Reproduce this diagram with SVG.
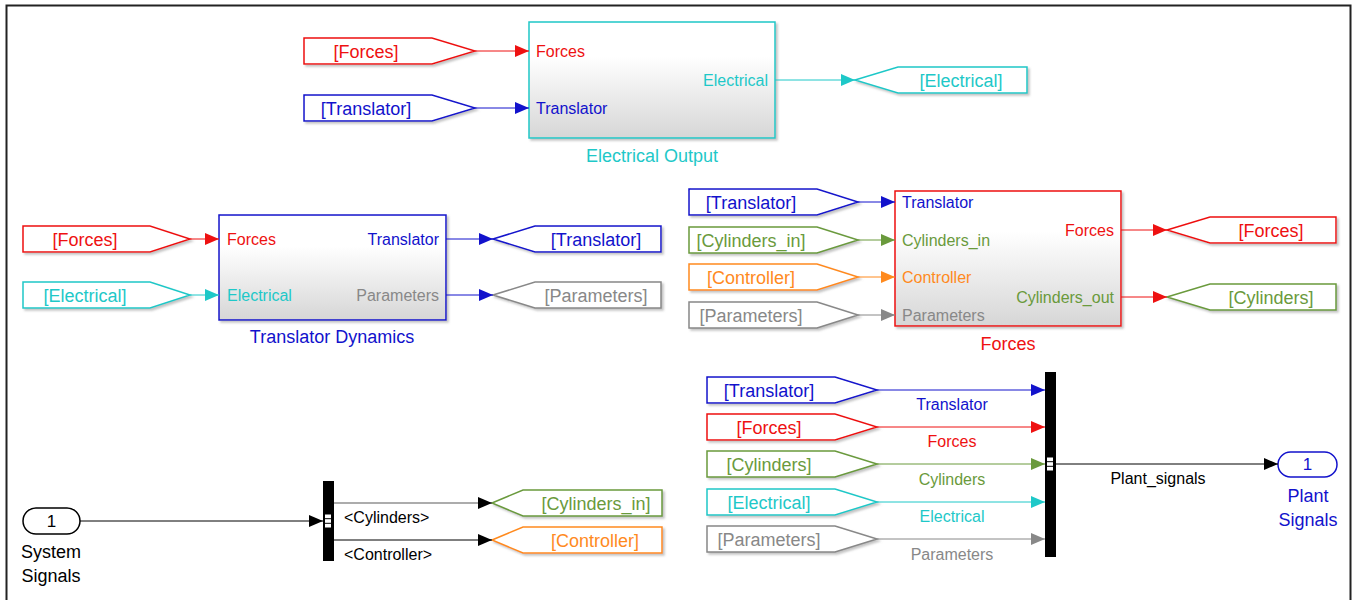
<svg xmlns="http://www.w3.org/2000/svg" width="1352" height="600" viewBox="0 0 1352 600">
  <style>
    text { font-family: "Liberation Sans", Arial, sans-serif; }
    .port { font-size: 16px; }
    .tagt { font-size: 18px; text-anchor: middle; }
    .name { font-size: 18px; text-anchor: middle; }
    .sig  { font-size: 16px; text-anchor: middle; }
    .r { text-anchor: end; }
    .blk { fill: url(#blockFill); stroke-width: 1.5; filter: url(#shadow); }
    .tag { fill: #ffffff; stroke-width: 1.5; filter: url(#shadow); }
    .wire { fill: none; stroke-width: 1; }
    .red { stroke: #ee1111; } .tred { fill: #ee1111; }
    .blue { stroke: #1212cc; } .tblue { fill: #1212cc; }
    .cyan { stroke: #1ec8c8; } .tcyan { fill: #1ec8c8; }
    .green { stroke: #6a9a3c; } .tgreen { fill: #6a9a3c; }
    .orange { stroke: #ff8a1e; } .torange { fill: #ff8a1e; }
    .grey { stroke: #888888; } .tgrey { fill: #888888; }
    .black { stroke: #000000; } .tblack { fill: #000000; }
  </style>
  <defs>
    <linearGradient id="blockFill" x1="0" y1="0" x2="0" y2="1">
      <stop offset="0" stop-color="#ffffff"/>
      <stop offset="0.3" stop-color="#ffffff"/>
      <stop offset="1" stop-color="#d6d6d6"/>
    </linearGradient>
    <filter id="shadow" x="-10%" y="-10%" width="120%" height="130%">
      <feDropShadow dx="2" dy="2" stdDeviation="1" flood-color="#888888" flood-opacity="0.5"/>
    </filter>
    <marker id="aRed" markerUnits="userSpaceOnUse" markerWidth="14" markerHeight="12" refX="14" refY="6" orient="auto"><path d="M0,0 L14,6 L0,12 z" fill="#ee1111"/></marker>
    <marker id="aBlue" markerUnits="userSpaceOnUse" markerWidth="14" markerHeight="12" refX="14" refY="6" orient="auto"><path d="M0,0 L14,6 L0,12 z" fill="#1212cc"/></marker>
    <marker id="aCyan" markerUnits="userSpaceOnUse" markerWidth="14" markerHeight="12" refX="14" refY="6" orient="auto"><path d="M0,0 L14,6 L0,12 z" fill="#1ec8c8"/></marker>
    <marker id="aGreen" markerUnits="userSpaceOnUse" markerWidth="14" markerHeight="12" refX="14" refY="6" orient="auto"><path d="M0,0 L14,6 L0,12 z" fill="#6a9a3c"/></marker>
    <marker id="aOrange" markerUnits="userSpaceOnUse" markerWidth="14" markerHeight="12" refX="14" refY="6" orient="auto"><path d="M0,0 L14,6 L0,12 z" fill="#ff8a1e"/></marker>
    <marker id="aGrey" markerUnits="userSpaceOnUse" markerWidth="14" markerHeight="12" refX="14" refY="6" orient="auto"><path d="M0,0 L14,6 L0,12 z" fill="#888888"/></marker>
    <marker id="aBlack" markerUnits="userSpaceOnUse" markerWidth="14" markerHeight="12" refX="14" refY="6" orient="auto"><path d="M0,0 L14,6 L0,12 z" fill="#000000"/></marker>
  </defs>

  <rect width="1352" height="600" fill="#ffffff"/>
  <!-- canvas frame -->
  <rect x="6.5" y="5.5" width="1344" height="600" fill="none" stroke="#222222" stroke-width="2"/>

  <!-- ===== Electrical Output subsystem ===== -->
  <g id="from-forces-1">
    <polygon class="tag red" points="304,38 432,38 475,51 432,64 304,64"/>
    <text class="tagt tred" x="366" y="57.5">[Forces]</text>
  </g>
  <g id="from-translator-1">
    <polygon class="tag blue" points="304,95 432,95 475,108 432,121 304,121"/>
    <text class="tagt tblue" x="366" y="114.5">[Translator]</text>
  </g>
  <g id="electrical-output">
    <rect class="blk cyan" x="529" y="22" width="246" height="116"/>
    <text class="port tred" x="536" y="57">Forces</text>
    <text class="port tblue" x="536" y="114">Translator</text>
    <text class="port tcyan r" x="768" y="86">Electrical</text>
    <text class="name tcyan" x="652" y="162">Electrical Output</text>
  </g>
  <g id="goto-electrical">
    <polygon class="tag cyan" points="855,80 898,67 1027,67 1027,93 898,93"/>
    <text class="tagt tcyan" x="961" y="86.5">[Electrical]</text>
  </g>

  <!-- ===== Translator Dynamics subsystem ===== -->
  <g id="from-forces-2">
    <polygon class="tag red" points="23,226 150,226 190,239 150,252 23,252"/>
    <text class="tagt tred" x="85" y="245.5">[Forces]</text>
  </g>
  <g id="from-electrical-1">
    <polygon class="tag cyan" points="23,282 150,282 190,295 150,308 23,308"/>
    <text class="tagt tcyan" x="85" y="301.5">[Electrical]</text>
  </g>
  <g id="translator-dynamics">
    <rect class="blk blue" x="219" y="215" width="227" height="105"/>
    <text class="port tred" x="227" y="245">Forces</text>
    <text class="port tcyan" x="227" y="301">Electrical</text>
    <text class="port tblue r" x="439" y="245">Translator</text>
    <text class="port tgrey r" x="439" y="301">Parameters</text>
    <text class="name tblue" x="332" y="343">Translator Dynamics</text>
  </g>
  <g id="goto-translator">
    <polygon class="tag blue" points="493,239 535,226 661,226 661,252 535,252"/>
    <text class="tagt tblue" x="596" y="245.5">[Translator]</text>
  </g>
  <g id="goto-parameters">
    <polygon class="tag grey" points="493,295 535,282 661,282 661,308 535,308"/>
    <text class="tagt tgrey" x="596" y="301.5">[Parameters]</text>
  </g>

  <!-- ===== Forces subsystem ===== -->
  <g id="from-translator-2">
    <polygon class="tag blue" points="689,189 817,189 858,202 817,215 689,215"/>
    <text class="tagt tblue" x="751" y="208.5">[Translator]</text>
  </g>
  <g id="from-cylinders-in">
    <polygon class="tag green" points="689,227 817,227 858,240 817,253 689,253"/>
    <text class="tagt tgreen" x="751" y="246.5">[Cylinders_in]</text>
  </g>
  <g id="from-controller">
    <polygon class="tag orange" points="689,264 817,264 858,277 817,290 689,290"/>
    <text class="tagt torange" x="751" y="283.5">[Controller]</text>
  </g>
  <g id="from-parameters-1">
    <polygon class="tag grey" points="689,302 817,302 858,315 817,328 689,328"/>
    <text class="tagt tgrey" x="751" y="321.5">[Parameters]</text>
  </g>
  <g id="forces">
    <rect class="blk red" x="895" y="191" width="226" height="135"/>
    <text class="port tblue" x="902" y="208">Translator</text>
    <text class="port tgreen" x="902" y="246">Cylinders_in</text>
    <text class="port torange" x="902" y="283">Controller</text>
    <text class="port tgrey" x="902" y="321">Parameters</text>
    <text class="port tred r" x="1114" y="236">Forces</text>
    <text class="port tgreen r" x="1114" y="303">Cylinders_out</text>
    <text class="name tred" x="1008" y="350">Forces</text>
  </g>
  <g id="goto-forces">
    <polygon class="tag red" points="1167,230 1210,217 1336,217 1336,243 1210,243"/>
    <text class="tagt tred" x="1271" y="236.5">[Forces]</text>
  </g>
  <g id="goto-cylinders">
    <polygon class="tag green" points="1167,297 1210,284 1336,284 1336,310 1210,310"/>
    <text class="tagt tgreen" x="1271" y="303.5">[Cylinders]</text>
  </g>

  <!-- ===== System signals bus selector ===== -->
  <g id="system-signals">
    <rect x="23" y="508" width="57" height="26" rx="13" fill="#ffffff" stroke="#000000" stroke-width="1.5"/>
    <text class="sig tblack" x="51.5" y="527" style="font-size:17px">1</text>
    <text class="name tblack" x="51" y="558">System</text>
    <text class="name tblack" x="51" y="582">Signals</text>
  </g>
  <g id="bus-selector">
    <rect x="323" y="481" width="11" height="80" fill="#000000"/>
    <rect x="324.5" y="514" width="7" height="14" fill="#ffffff" stroke="#000000" stroke-width="1"/>
    <line x1="324.5" y1="518.7" x2="331.5" y2="518.7" stroke="#000000" stroke-width="1"/>
    <line x1="324.5" y1="523.3" x2="331.5" y2="523.3" stroke="#000000" stroke-width="1"/>
  </g>
  <g id="goto-cylinders-in">
    <polygon class="tag green" points="492,503 523,490 662,490 662,516 523,516"/>
    <text class="tagt tgreen" x="596" y="509.5">[Cylinders_in]</text>
  </g>
  <g id="goto-controller">
    <polygon class="tag orange" points="492,540 523,527 662,527 662,553 523,553"/>
    <text class="tagt torange" x="595" y="546.5">[Controller]</text>
  </g>

  <!-- ===== Plant signals bus creator ===== -->
  <g id="from-translator-3">
    <polygon class="tag blue" points="707,377 835,377 877,390 835,403 707,403"/>
    <text class="tagt tblue" x="769" y="396.5">[Translator]</text>
  </g>
  <g id="from-forces-3">
    <polygon class="tag red" points="707,414 835,414 877,427 835,440 707,440"/>
    <text class="tagt tred" x="769" y="433.5">[Forces]</text>
  </g>
  <g id="from-cylinders">
    <polygon class="tag green" points="707,451 835,451 877,464 835,477 707,477"/>
    <text class="tagt tgreen" x="769" y="470.5">[Cylinders]</text>
  </g>
  <g id="from-electrical-2">
    <polygon class="tag cyan" points="707,489 835,489 877,502 835,515 707,515"/>
    <text class="tagt tcyan" x="769" y="508.5">[Electrical]</text>
  </g>
  <g id="from-parameters-2">
    <polygon class="tag grey" points="707,526 835,526 877,539 835,552 707,552"/>
    <text class="tagt tgrey" x="769" y="545.5">[Parameters]</text>
  </g>
  <g id="bus-creator">
    <rect x="1045" y="372" width="11" height="185" fill="#000000"/>
    <rect x="1046.5" y="457" width="7" height="14" fill="#ffffff" stroke="#000000" stroke-width="1"/>
    <line x1="1046.5" y1="461.7" x2="1053.5" y2="461.7" stroke="#000000" stroke-width="1"/>
    <line x1="1046.5" y1="466.3" x2="1053.5" y2="466.3" stroke="#000000" stroke-width="1"/>
  </g>
  <g id="plant-signals">
    <rect x="1278" y="452" width="59" height="25" rx="12.5" fill="#ffffff" stroke="#1212cc" stroke-width="1.5"/>
    <text class="sig tblue" x="1307.5" y="470" style="font-size:17px">1</text>
    <text class="name tblue" x="1308" y="502">Plant</text>
    <text class="name tblue" x="1308" y="526">Signals</text>
  </g>

  <!-- ===== signal lines ===== -->
  <g id="connectors">
    <line class="wire red" x1="475" y1="51" x2="529" y2="51" marker-end="url(#aRed)"/>
    <line class="wire blue" x1="475" y1="108" x2="529" y2="108" marker-end="url(#aBlue)"/>
    <line class="wire cyan" x1="775" y1="80" x2="855" y2="80" marker-end="url(#aCyan)"/>

    <line class="wire red" x1="190" y1="239" x2="219" y2="239" marker-end="url(#aRed)"/>
    <line class="wire cyan" x1="190" y1="295" x2="219" y2="295" marker-end="url(#aCyan)"/>
    <line class="wire blue" x1="446" y1="239" x2="493" y2="239" marker-end="url(#aBlue)"/>
    <line class="wire blue" x1="446" y1="295" x2="493" y2="295" marker-end="url(#aBlue)"/>

    <line class="wire blue" x1="858" y1="202" x2="895" y2="202" marker-end="url(#aBlue)"/>
    <line class="wire green" x1="858" y1="240" x2="895" y2="240" marker-end="url(#aGreen)"/>
    <line class="wire orange" x1="858" y1="277" x2="895" y2="277" marker-end="url(#aOrange)"/>
    <line class="wire grey" x1="858" y1="315" x2="895" y2="315" marker-end="url(#aGrey)"/>
    <line class="wire red" x1="1121" y1="230" x2="1167" y2="230" marker-end="url(#aRed)"/>
    <line class="wire red" x1="1121" y1="297" x2="1167" y2="297" marker-end="url(#aRed)"/>

    <line class="wire black" x1="80" y1="521" x2="323" y2="521" marker-end="url(#aBlack)"/>
    <line class="wire black" x1="334" y1="503" x2="492" y2="503" marker-end="url(#aBlack)" stroke-opacity="0.65"/>
    <line class="wire black" x1="334" y1="540" x2="492" y2="540" marker-end="url(#aBlack)"/>
    <text class="port tblack" x="344" y="523">&lt;Cylinders&gt;</text>
    <text class="port tblack" x="344" y="560">&lt;Controller&gt;</text>

    <line class="wire blue" x1="877" y1="390" x2="1045" y2="390" marker-end="url(#aBlue)"/>
    <line class="wire red" x1="877" y1="427" x2="1045" y2="427" marker-end="url(#aRed)"/>
    <line class="wire green" x1="877" y1="464" x2="1045" y2="464" marker-end="url(#aGreen)"/>
    <line class="wire cyan" x1="877" y1="502" x2="1045" y2="502" marker-end="url(#aCyan)"/>
    <line class="wire grey" x1="877" y1="539" x2="1045" y2="539" marker-end="url(#aGrey)"/>
    <text class="sig tblue" x="952" y="410">Translator</text>
    <text class="sig tred" x="952" y="447">Forces</text>
    <text class="sig tgreen" x="952" y="485">Cylinders</text>
    <text class="sig tcyan" x="952" y="522">Electrical</text>
    <text class="sig tgrey" x="952" y="560">Parameters</text>

    <line class="wire black" x1="1056" y1="464" x2="1278" y2="464" marker-end="url(#aBlack)"/>
    <text class="sig tblack" x="1158" y="484">Plant_signals</text>
  </g>
</svg>
